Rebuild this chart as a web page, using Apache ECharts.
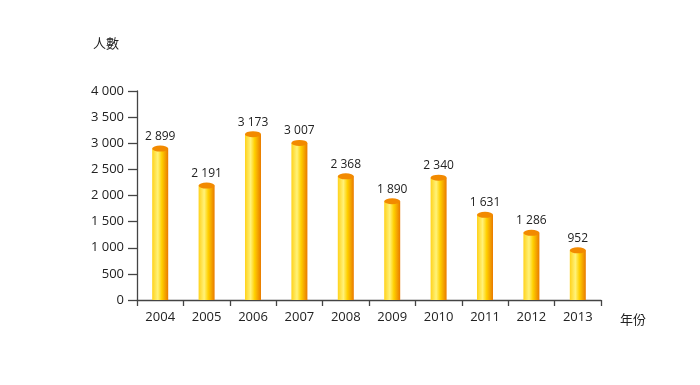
<!DOCTYPE html>
<html><head><meta charset="utf-8">
<script src="https://cdn.jsdelivr.net/npm/echarts@6/dist/echarts.min.js"></script>
<style>html,body{margin:0;padding:0;background:#fff}#c{width:700px;height:385px}</style>
</head><body><div id="c"></div>
<script>
const years = ['2004','2005','2006','2007','2008','2009','2010','2011','2012','2013'];
const persons = [2899,2191,3173,3007,2368,1890,2340,1631,1286,952];
const yTicks = [0,500,1000,1500,2000,2500,3000,3500,4000];
const yName = '人數';
const xName = '年份';

function fmt(v){return String(v).replace(/\B(?=(\d{3})+(?!\d))/g,' ');}
const FONT = '"Open Sans", "Noto Sans CJK TC", sans-serif';
const chart = echarts.init(document.getElementById('c'));
chart.setOption({
  animation:false,
  grid:{left:137,right:99,top:91,bottom:85},
  xAxis:{
    type:'category',data:years,
    axisLine:{lineStyle:{color:'#444',width:1.3}},
    axisTick:{show:true,length:6,inside:false,lineStyle:{color:'#444',width:1.3}},
    axisLabel:{color:'#222',fontSize:13,fontFamily:FONT,margin:11},
    name:xName,nameLocation:'end',nameGap:19,
    nameTextStyle:{color:'#222',fontSize:13,fontFamily:FONT,verticalAlign:'top',padding:[14,0,0,0]}
  },
  yAxis:{
    type:'value',min:yTicks[0],max:yTicks[yTicks.length-1],interval:500,
    axisLine:{show:true,lineStyle:{color:'#444',width:1.3}},
    axisTick:{show:true,length:9,lineStyle:{color:'#444',width:1.3}},
    splitLine:{show:false},
    axisLabel:{color:'#222',fontSize:13,fontFamily:FONT,margin:13,formatter:v=>fmt(v)},
    name:yName,nameLocation:'end',nameGap:40,
    nameTextStyle:{color:'#222',fontSize:13,fontFamily:FONT,align:'right',padding:[0,18,0,0]}
  },
  series:[
    {type:'bar',data:persons,barWidth:16,z:2,
     itemStyle:{color:new echarts.graphic.LinearGradient(0,0,1,0,[
       {offset:0,color:'#FFD21A'},{offset:0.35,color:'#FFF27A'},{offset:0.6,color:'#FFD000'},{offset:1,color:'#E97A00'}])},
     label:{show:true,position:'top',distance:6,color:'#222',fontSize:12,fontFamily:FONT,formatter:p=>fmt(p.value)}
    },
    {type:'pictorialBar',data:persons,symbol:'circle',symbolSize:[16,6],symbolPosition:'end',symbolOffset:[0,'-50%'],z:3,
     itemStyle:{color:'#F28A00'}}
  ]
});
</script></body></html>
